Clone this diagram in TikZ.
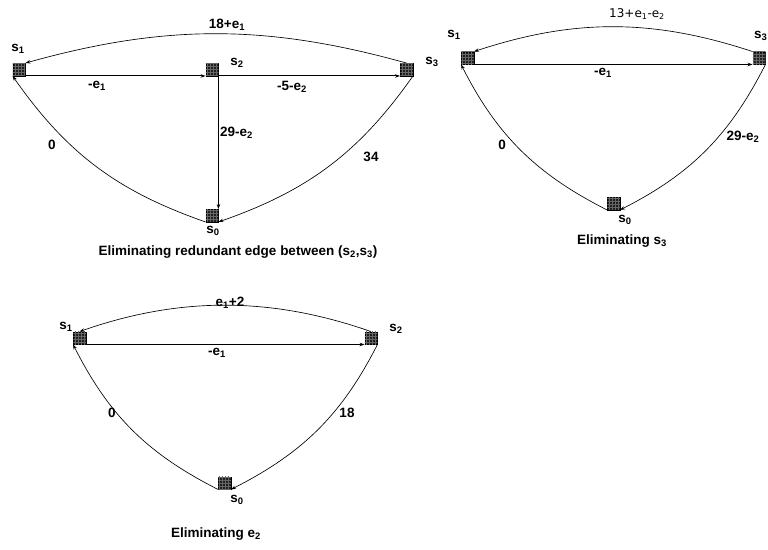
\documentclass[tikz,border=0pt]{standalone}
\usepackage{fontspec}
\setmainfont{Liberation Sans}
\newfontfamily\regfont{DejaVu Sans}
\usetikzlibrary{arrows.meta,patterns}
\newcommand{\sub}[1]{\textsubscript{#1}}
\begin{document}
\begin{tikzpicture}[x=1pt,y=-1pt,
  box/.style={draw=black,fill=black!88,minimum size=12.5pt,inner sep=0pt,
    postaction={pattern=grid,pattern color=black!60}},
  lbl/.style={font=\fontsize{13.5}{15}\selectfont\bfseries,inner sep=0pt},
  reg/.style={font=\regfont\fontsize{12}{14}\selectfont,inner sep=0pt},
  curvy/.style={line width=0.65pt,-{Stealth[length=5pt,width=3.5pt]}},
  sline/.style={line width=1pt,-{Stealth[length=5pt,width=3.5pt]}}]
\useasboundingbox (0,0) rectangle (768,549);
\fill[white] (0,0) rectangle (768,549);

% ---------- Diagram 1 ----------
\node[box] (a1) at (19,69.5) {};
\node[box] (a2) at (212,69.5) {};
\node[box] (a3) at (406.5,69.5) {};
\node[box] (a0) at (212,215.5) {};
\draw[sline] (a1.south east) -- (a2.south west);
\draw[sline] (a2.south east) -- (a3.south west);
\draw[sline] (a2.south east) -- (a0.north east);
\draw[curvy] (a3.north) .. controls +(-140,-39) and +(140,-39) .. (a1.north east);
\draw[curvy] (a0.south west) .. controls +(-89,-31) and +(54,77) .. (a1.south west);
\draw[curvy] (a3.south east) .. controls +(-54,77) and +(89,-31) .. (a0.south east);
\node[lbl] (la1) at (18,49) {s\sub{1}};
\node[lbl] (la2) at (237,63) {s\sub{2}};
\node[lbl] (la3) at (432,62) {s\sub{3}};
\node[lbl] (la0) at (213,231) {s\sub{0}};
\node[lbl] (ea13) at (227,25) {18+e\sub{1}};
\node[lbl] (ea12) at (97,86) {-e\sub{1}};
\node[lbl] (ea23) at (292,87) {-5-e\sub{2}};
\node[lbl,anchor=west] (ea20) at (220,133) {29-e\sub{2}};
\node[lbl] (ea01) at (52,145) {0};
\node[lbl] (ea30) at (371,157) {34};
\node[lbl] (cap1) at (238,252) {Eliminating redundant edge between (s\sub{2},s\sub{3})};

% ---------- Diagram 2 ----------
\node[box] (b1) at (467.5,58) {};
\node[box] (b3) at (759,58) {};
\node[box] (b0) at (613.5,203.5) {};
\draw[sline] (b1.south east) -- (b3.south west);
\draw[curvy] (b3.north west) .. controls +(-100,-33) and +(100,-33) .. (b1.north east);
\draw[curvy] (b0.south west) .. controls +(-71,-36) and +(36,71) .. (b1.south west);
\draw[curvy] (b3.south east) .. controls +(-36,71) and +(71,-36) .. (b0.south east);
\node[lbl] (lb1) at (454,35) {s\sub{1}};
\node[lbl,anchor=east] (lb3) at (767.5,36) {s\sub{3}};
\node[lbl] (lb0) at (625,220) {s\sub{0}};
\node[reg] (eb31) at (637,14) {13+e\sub{1}-e\sub{2}};
\node[lbl] (eb13) at (603,73) {-e\sub{1}};
\node[lbl] (eb01) at (502,145) {0};
\node[lbl] (eb30) at (743,137) {29-e\sub{2}};
\node[lbl] (cap2) at (622,241) {Eliminating s\sub{3}};

% ---------- Diagram 3 ----------
\node[box] (c1) at (79.5,338) {};
\node[box] (c2) at (371,338) {};
\node[box] (c0) at (224.5,483) {};
\draw[sline] (c1.south east) -- (c2.south west);
\draw[curvy] (c2.north) .. controls +(-100,-35) and +(100,-35) .. (c1.north);
\draw[curvy] (c0.south west) .. controls +(-71,-36) and +(36,71) .. (c1.south west);
\draw[curvy] (c2.south east) .. controls +(-36,71) and +(71,-36) .. (c0.south east);
\node[lbl] (lc1) at (66,327) {s\sub{1}};
\node[lbl] (lc2) at (396,329) {s\sub{2}};
\node[lbl] (lc0) at (237,500) {s\sub{0}};
\node[lbl] (ec21) at (230,303) {e\sub{1}+2};
\node[lbl] (ec12) at (217,353) {-e\sub{1}};
\node[lbl] (ec01) at (112,413) {0};
\node[lbl] (ec20) at (347,413) {18};
\node[lbl] (cap3) at (216,534) {Eliminating e\sub{2}};
\end{tikzpicture}
\end{document}
